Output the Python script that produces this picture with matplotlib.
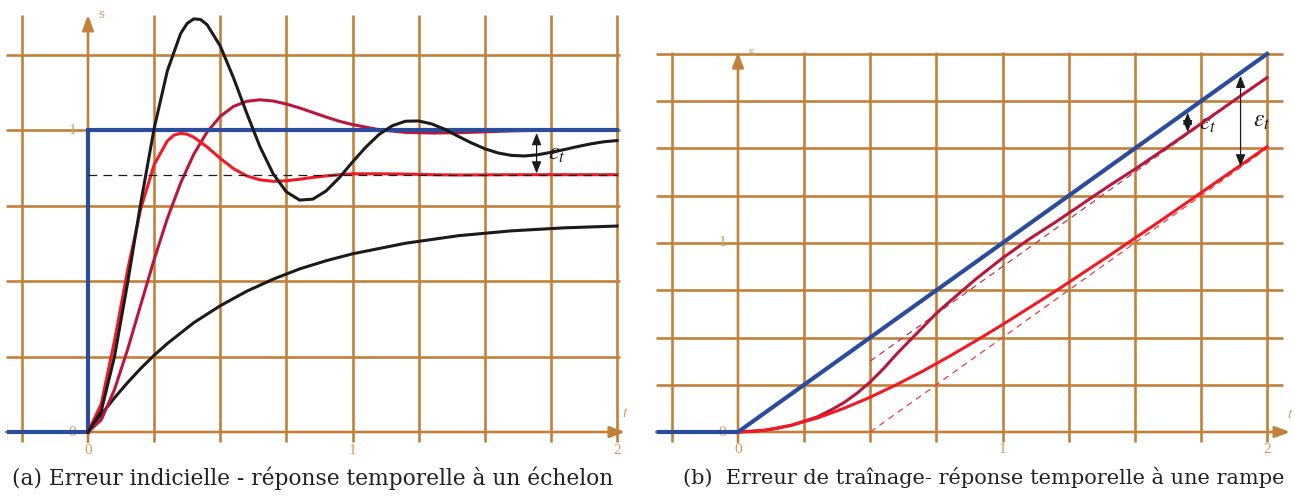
import matplotlib.pyplot as plt

plt.rcParams['mathtext.fontset'] = 'stix'

GRID = '#c2813a'
LABEL = '#d39c5e'
BLUE = '#2b4c9b'
RED = '#f01a24'
CRIMSON = '#b8183c'
BLACK = '#1b1b1b'

# grid positions (both panels use quarter steps)
grid_t = [-0.25, 0.25, 0.5, 0.75, 1.0, 1.25, 1.5, 1.75, 2.0]
grid_s_a = [0.25, 0.5, 0.75, 1.0, 1.25]
grid_s_b = [0.25, 0.5, 0.75, 1.0, 1.25, 1.5, 1.75, 2.0]

# ---- (a) step responses
t_step = [-0.3, 0, 0, 2]
s_step = [0, 0, 1, 1]

t_black = [0, .05, .1, .15, .2, .25, .3, .35, .375, .4, .425, .45, .5, .55, .6, .65, .7, .75, .8, .85,
           .9, .95, 1.0, 1.05, 1.1, 1.15, 1.2, 1.25, 1.3, 1.35, 1.4, 1.45, 1.5, 1.55, 1.6, 1.65, 1.7,
           1.75, 1.8, 1.85, 1.9, 1.95, 2.0]
s_black = [0, .069, .249, .495, .761, 1.005, 1.196, 1.319, 1.353, 1.368, 1.366, 1.349, 1.278, 1.173,
           1.056, .945, .855, .795, .768, .771, .798, .842, .894, .943, .985, 1.014, 1.029, 1.030,
           1.020, 1.002, .979, .957, .938, .924, .916, .914, .918, .926, .935, .945, .954, .961, .965]

t_red = [0, .05, .1, .15, .2, .25, .3, .325, .35, .375, .4, .45, .5, .55, .6, .65, .7, .75, .8, .85,
         .9, .95, 1.0, 1.1, 1.2, 1.3, 1.4, 1.6, 1.8, 2.0]
s_red = [0, .093, .301, .537, .741, .885, .964, .983, .989, .986, .976, .944, .906, .872, .848, .835,
         .830, .832, .837, .843, .848, .852, .855, .855, .854, .852, .851, .852, .852, .852]

t_crim = [0, .05, .1, .15, .2, .25, .3, .35, .4, .45, .5, .55, .6, .65, .7, .75, .8, .85, .9, .95,
          1.0, 1.1, 1.2, 1.3, 1.4, 1.5, 1.6, 1.7, 1.8, 2.0]
s_crim = [0, .040, .140, .274, .423, .571, .707, .824, .920, .993, 1.045, 1.078, 1.095, 1.100, 1.096,
          1.086, 1.073, 1.058, 1.043, 1.029, 1.018, 1.001, .992, .990, .991, .994, .997, .999, 1.0, 1.0]

t_slow = [0, .05, .1, .15, .2, .25, .3, .4, .5, .6, .7, .8, .9, 1.0, 1.2, 1.4, 1.6, 1.8, 2.0]
s_slow = [0, .058, .113, .164, .211, .254, .293, .362, .418, .466, .506, .540, .567, .590, .625, .650,
          .666, .676, .682]

final_red = 0.852

# ---- (b) ramp responses
t_ramp = [-0.3, 0, 2]
s_ramp = [0, 0, 2]

t_r = [0, .05, .1, .15, .2, .3, .4, .5, .6, .7, .8, .9, 1.0, 1.2, 1.4, 1.6, 1.8, 2.0]
s_r = [0, .002, .009, .020, .035, .074, .125, .184, .251, .323, .401, .483, .568, .745, .930, 1.120,
       1.314, 1.509]

t_c = [0, .1, .2, .3, .35, .4, .45, .5, .55, .6, .65, .7, .75, .8, .85, .9, .95, 1.0, 1.1, 1.2, 1.3,
       1.4, 1.5, 1.6, 1.7, 1.8, 1.9, 2.0]
s_c = [0, .009, .035, .08, .115, .155, .205, .265, .335, .413, .485, .556, .628, .69, .75, .81, .865,
       .92, 1.02, 1.11, 1.205, 1.30, 1.39, 1.485, 1.582, 1.68, 1.778, 1.875]

t_asym = [0.5, 2.0]
s_asym_c = [0.375, 1.875]
s_asym_r = [0.0, 1.5]

W, H = 1295, 499
fig = plt.figure(figsize=(W / 100, H / 100), dpi=100)


def px_axes(x0, x1, y0, y1):
    return fig.add_axes([x0 / W, 1 - y1 / H, (x1 - x0) / W, (y1 - y0) / H])


def frame(ax, grid_s, v_bot, h_left, h_right, x_tip, y_top, dy_lab, dy_t):
    ax.vlines(grid_t, v_bot, y_top, color=GRID, lw=1.9, zorder=1)
    ax.hlines(grid_s, h_left, h_right, color=GRID, lw=1.9, zorder=1)
    arr = dict(arrowstyle='-|>,head_length=0.45,head_width=0.17', color=GRID, lw=1.9,
               mutation_scale=20, shrinkA=0, shrinkB=0)
    # the two axes, full length with arrow heads
    ax.annotate('', xy=(x_tip, 0), xytext=(h_left, 0), arrowprops=arr, zorder=1)
    ax.annotate('', xy=(0, y_top), xytext=(0, v_bot), arrowprops=arr, zorder=1)
    kw = dict(color=LABEL, fontsize=11, family='Liberation Serif', ha='center', va='center')
    for v in [0, 1, 2]:
        ax.text(v, -dy_lab, str(v), **kw)
    for v in [0, 1]:
        ax.text(-0.06, v, str(v), **kw)
    ax.text(0.05, y_top, 's', **kw)
    ax.text(x_tip, dy_t, '$t$', **kw)
    ax.axis('off')


# ---------------- panel (a)
ax1 = px_axes(0, 640, 0, 460)
ax1.set_xlim(-88 / 264.5, (640 - 88) / 264.5)
ax1.set_ylim((432 - 460) / 302, 432 / 302)
frame(ax1, grid_s_a, -0.033, -0.31, 2.011, 2.03, 1.381, 0.06, 0.06)

ax1.plot(t_slow, s_slow, color=BLACK, lw=2.2, zorder=3)
ax1.plot(t_crim, s_crim, color=CRIMSON, lw=2.2, zorder=3)
ax1.plot(t_step, s_step, color=BLUE, lw=3.0, zorder=4, solid_joinstyle='miter')
ax1.plot(t_red, s_red, color=RED, lw=2.2, zorder=5)
ax1.plot(t_black, s_black, color=BLACK, lw=2.2, zorder=6)
ax1.plot([0, 2], [final_red, final_red], color=BLACK, lw=0.9, dashes=(7, 5), zorder=7)

eps_arr = dict(arrowstyle='<|-|>,head_length=0.55,head_width=0.22', color=BLACK, lw=0.9,
               mutation_scale=13, shrinkA=0, shrinkB=0)
ax1.annotate('', xy=(1.696, 0.99), xytext=(1.696, final_red + 0.004), arrowprops=eps_arr, zorder=8)
ax1.text(1.772, 0.924, r'$\varepsilon_t$', fontsize=17, color=BLACK, ha='center', va='center',
         zorder=8)

# ---------------- panel (b)
ax2 = px_axes(650, 1295, 0, 460)
ax2.set_xlim((650 - 738) / 264.5, (1295 - 738) / 264.5)
ax2.set_ylim((432 - 460) / 189, 432 / 189)
frame(ax2, grid_s_b, -0.053, -0.31, 2.06, 2.087, 2.01, 0.095, 0.09)

ax2.plot(t_asym, s_asym_c, color='#c8304f', lw=0.9, dashes=(5, 4), zorder=3)
ax2.plot(t_asym, s_asym_r, color='#ee3a40', lw=0.9, dashes=(5, 4), zorder=3)
ax2.plot(t_c, s_c, color=CRIMSON, lw=2.2, zorder=4)
ax2.plot(t_r, s_r, color=RED, lw=2.2, zorder=5)
ax2.plot(t_ramp, s_ramp, color=BLUE, lw=3.0, zorder=6)

ax2.annotate('', xy=(1.70, 1.69), xytext=(1.70, 1.586), arrowprops=eps_arr, zorder=8)
ax2.text(1.777, 1.635, r'$\varepsilon_t$', fontsize=17, color=BLACK, ha='center', va='center')
ax2.annotate('', xy=(1.90, 1.885), xytext=(1.90, 1.405), arrowprops=eps_arr, zorder=8)
ax2.text(1.981, 1.651, r'$\varepsilon_t$', fontsize=17, color=BLACK, ha='center', va='center')

# captions
cap = dict(family='DejaVu Serif', color='#222222', ha='center', va='center')
fig.text(313 / W, 1 - 478 / H, '(a) Erreur indicielle - réponse temporelle à un échelon',
         fontsize=15.7, **cap)
fig.text(984 / W, 1 - 478 / H, '(b)  Erreur de traînage- réponse temporelle à une rampe',
         fontsize=15, **cap)

fig.savefig('out.png', dpi=100)
